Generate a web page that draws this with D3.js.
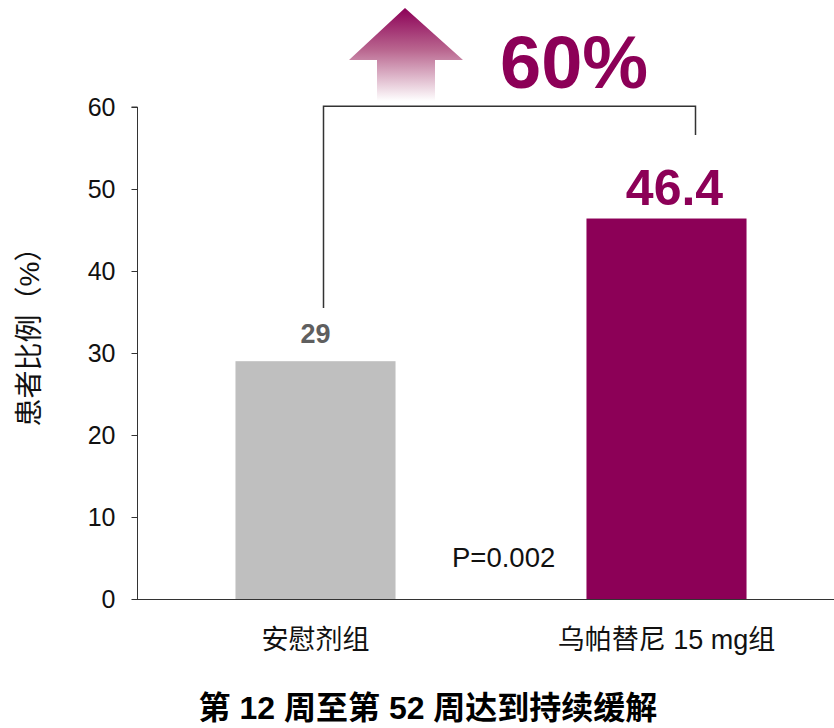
<!DOCTYPE html>
<html>
<head>
<meta charset="utf-8">
<script src="https://cdn.jsdelivr.net/npm/d3@7"></script>
<style>
  body { margin: 0; background: #fff; }
  svg text { font-family: "Liberation Sans", Arial, "Noto Sans CJK SC", sans-serif; }
</style>
</head>
<body>
<svg id="chart" width="834" height="728"></svg>
<script>
// Data
const categories = ['安慰剂组', '乌帕替尼 15 mg组'];
const values = [29, 46.4];
const barColors = ['#bfbfbf', '#8c0057'];
const labelColors = ['#5f5f5f', '#8c0057'];
const yTicks = [0, 10, 20, 30, 40, 50, 60];
const increase = '60%';
const pValue = 'P=0.002';
const title = '第 12 周至第 52 周达到持续缓解';
const yLabel = '患者比例（%）';

const svg = d3.select('#chart');

const yScale = d3.scaleLinear()
    .domain([0, 60])
    .range([599, 107]);

const xScale = d3.scaleBand()
    .domain(categories)
    .range([140, 842])
    .paddingInner(0.544)
    .paddingOuter(0.272);

// Y axis
const yAxis = svg.append('g')
    .attr('transform', 'translate(137.5,0)')
    .call(d3.axisLeft(yScale).tickValues(yTicks).tickSize(6).tickPadding(16));
yAxis.select('.domain').attr('stroke', '#333').attr('d', `M-6,${yScale(60)}H0V${yScale(0)}`);
yAxis.selectAll('.tick line').attr('stroke', '#333');
yAxis.selectAll('.tick text')
    .attr('font-size', 25)
    .attr('fill', '#111');

// X axis line
svg.append('line')
    .attr('x1', 137).attr('x2', 834)
    .attr('y1', yScale(0) + 0.5).attr('y2', yScale(0) + 0.5)
    .attr('stroke', '#333');

// Y label
svg.append('text')
    .attr('transform', `translate(39,330) rotate(-90)`)
    .attr('text-anchor', 'middle')
    .attr('font-size', 28)
    .attr('fill', '#111')
    .text(yLabel);

// Bars
svg.selectAll('.bar')
    .data(values)
    .enter()
    .append('rect')
    .attr('class', 'bar')
    .attr('x', (d, i) => xScale(categories[i]))
    .attr('y', d => yScale(d))
    .attr('width', xScale.bandwidth())
    .attr('height', d => yScale(0) - yScale(d))
    .attr('fill', (d, i) => barColors[i]);

// Value labels
svg.selectAll('.label')
    .data(values)
    .enter()
    .append('text')
    .attr('class', 'label')
    .attr('x', (d, i) => xScale(categories[i]) + xScale.bandwidth() / 2 + (i === 1 ? 8 : 0))
    .attr('y', (d, i) => yScale(d) - (i === 0 ? 18 : 14))
    .attr('text-anchor', 'middle')
    .attr('font-weight', 'bold')
    .attr('font-size', (d, i) => i === 0 ? 27 : 50)
    .attr('fill', (d, i) => labelColors[i])
    .text(d => d);

// Category labels
svg.selectAll('.cat')
    .data(categories)
    .enter()
    .append('text')
    .attr('class', 'cat')
    .attr('x', d => xScale(d) + xScale.bandwidth() / 2)
    .attr('y', 649)
    .attr('text-anchor', 'middle')
    .attr('font-size', 27)
    .attr('fill', '#111')
    .text(d => d);

// Bracket
const xl = xScale(categories[0]) + xScale.bandwidth() / 2 + 8;
const xr = xScale(categories[1]) + xScale.bandwidth() / 2 + 29;
svg.append('path')
    .attr('d', `M${xl},${yScale(35.5)}V${yScale(60.1)}H${xr}V${yScale(56.6)}`)
    .attr('fill', 'none')
    .attr('stroke', '#333')
    .attr('stroke-width', 1.5);

// Arrow with gradient
const grad = svg.append('defs').append('linearGradient')
    .attr('id', 'arrowGrad')
    .attr('x1', 0).attr('y1', 0).attr('x2', 0).attr('y2', 1);
grad.append('stop').attr('offset', '0%').attr('stop-color', '#8c0057');
grad.append('stop').attr('offset', '45%').attr('stop-color', '#b9668f');
grad.append('stop').attr('offset', '100%').attr('stop-color', '#ffffff');
svg.append('path')
    .attr('d', 'M405,8L463,60H435V101H377V60H349Z')
    .attr('fill', 'url(#arrowGrad)');

svg.append('text')
    .attr('x', 500)
    .attr('y', 88)
    .attr('font-weight', 'bold')
    .attr('font-size', 74)
    .attr('fill', '#8c0057')
    .text(increase);

// P value
svg.append('text')
    .attr('x', 452)
    .attr('y', 567)
    .attr('font-size', 27.5)
    .attr('fill', '#111')
    .text(pValue);

// Title
svg.append('text')
    .attr('x', 428)
    .attr('y', 719)
    .attr('text-anchor', 'middle')
    .attr('font-weight', 'bold')
    .attr('font-size', 32)
    .attr('fill', '#000')
    .text(title);
</script>
</body>
</html>
